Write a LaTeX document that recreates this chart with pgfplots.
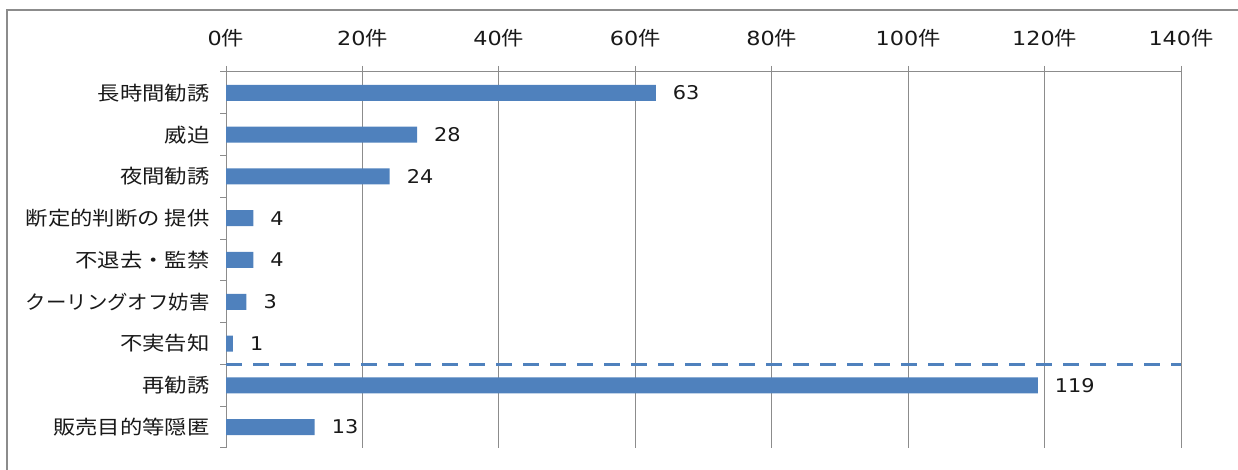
\documentclass[border=0pt]{standalone}
\usepackage{pgfplots}
\pgfplotsset{compat=1.18}
\usepackage{fontspec}
\setmainfont{Noto Sans CJK JP}
\newfontfamily\numfont{DejaVu Sans}
\definecolor{barblue}{HTML}{4F81BD}
\definecolor{gridgray}{HTML}{8C8C8C}
\newcommand\sx[1]{\scalebox{1.15}[1]{#1}}
\begin{document}
\begin{tikzpicture}[x=1bp,y=1bp]
\begin{axis}[
  at={(226bp,22bp)}, anchor=south west,
  scale only axis, width=955bp, height=376bp,
  xmin=0, xmax=140, ymin=-0.5, ymax=8.5, y dir=reverse,
  axis x line*=top, axis y line*=left,
  x axis line style={-, draw=gridgray, line width=1bp},
  y axis line style={-, draw=gridgray, line width=1bp},
  xtick={0,20,40,60,80,100,120,140},
  xticklabel={\sx{{\numfont\pgfmathprintnumber{\tick}}件}},
  x tick label style={yshift=15bp},
  ytick={-0.5,0.5,1.5,2.5,3.5,4.5,5.5,6.5,7.5,8.5},
  yticklabels={\sx{長時間勧誘},\sx{威迫},\sx{夜間勧誘},\sx{断定的判断の 提供},\sx{不退去・監禁},\scalebox{1.05}[1]{クーリングオフ妨害},\sx{不実告知},\sx{再勧誘},\sx{販売目的等隠匿},{}},
  y tick label style={yshift=-20.9bp, anchor=east, xshift=-7bp},
  tick align=outside, major tick length=6bp,
  tick style={draw=gridgray, line width=1bp},
  xmajorgrids, grid style={draw=gridgray, line width=1bp},
  ticklabel style={font=\fontsize{19.5}{19.5}\selectfont, text=black!90},
  /pgf/number format/assume math mode=true,
  clip=false,
]
\addplot[xbar, bar width=16bp, fill=barblue, draw=none,
  nodes near coords={\scalebox{1.1}[1]{\numfont\pgfmathprintnumber{\pgfplotspointmeta}}},
  nodes near coords style={anchor=west, inner sep=0pt, xshift=17bp, font=\fontsize{19}{19}\selectfont, text=black!90}]
  coordinates {(63,0) (28,1) (24,2) (4,3) (4,4) (3,5) (1,6) (119,7) (13,8)};
\addplot[barblue, line width=3.5bp, dash pattern=on 16bp off 11bp, forget plot]
  coordinates {(0,6.5) (140,6.5)};
\end{axis}
\draw[gridgray, line width=2bp] (7,-20) rectangle (1260,460);
\pgfresetboundingbox
\useasboundingbox (0,0) rectangle (1238,470);
\end{tikzpicture}
\end{document}
